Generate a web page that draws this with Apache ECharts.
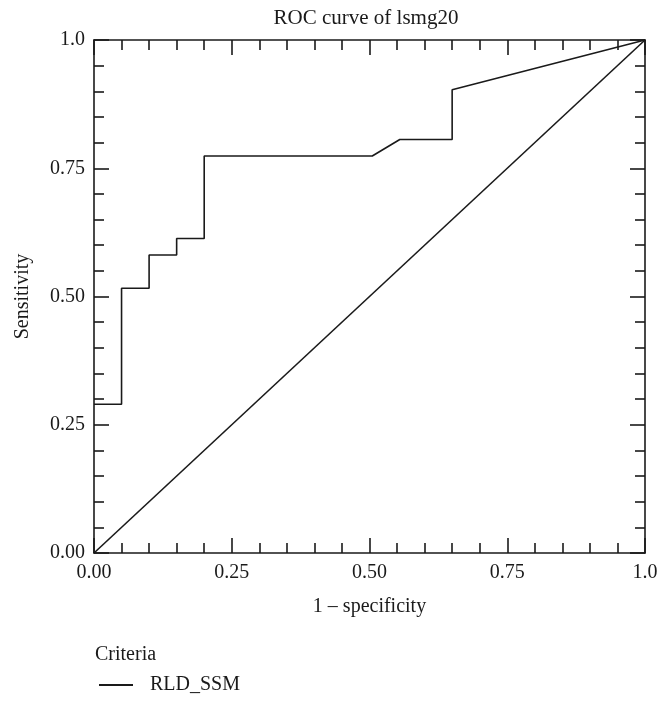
<!DOCTYPE html>
<html>
<head>
<meta charset="utf-8">
<script src="https://cdn.jsdelivr.net/npm/echarts@6/dist/echarts.min.js"></script>
<style>html,body{margin:0;padding:0;background:#fff}#c{width:671px;height:706px}</style>
</head>
<body>
<div id="c"></div>
<script>
// ROC curve points (1 - specificity, sensitivity)
const fpr = [0, 0.05, 0.05, 0.10, 0.10, 0.15, 0.15, 0.20, 0.20, 0.505, 0.555, 0.65, 0.65, 1.0];
const tpr = [0.29, 0.29, 0.516, 0.516, 0.581, 0.581, 0.613, 0.613, 0.774, 0.774, 0.806, 0.806, 0.903, 1.0];
const refX = [0, 1];
const refY = [0, 1];
const xTickLabels = ['0.00', '0.25', '0.50', '0.75', '1.0'];
const yTickLabels = ['0.00', '0.25', '0.50', '0.75', '1.0'];
const seriesName = 'RLD_SSM';
const titleText = 'ROC curve of lsmg20';
const xName = '1 \u2013 specificity';
const yName = 'Sensitivity';
const legendTitle = 'Criteria';

const FONT = '"Liberation Serif", "DejaVu Serif", serif';
const INK = '#1a1a1a';
const chart = echarts.init(document.getElementById('c'), null, {renderer: 'canvas'});

function lbl(list) {
  return function (v) { return list[Math.round(v / 0.25)]; };
}
function axisBase(extra) {
  return Object.assign({
    type: 'value', min: 0, max: 1, interval: 0.25,
    axisLine: {show: true, onZero: false, lineStyle: {color: INK, width: 1.6}},
    axisTick: {show: true, inside: true, length: 15, lineStyle: {color: INK, width: 1.6}},
    minorTick: {show: true, splitNumber: 5, length: 10, lineStyle: {color: INK, width: 1.6}},
    splitLine: {show: false},
    axisLabel: {show: false}
  }, extra);
}

const grid = {left: 94, right: 26, top: 40, bottom: 153};

chart.setOption({
  animation: false,
  backgroundColor: '#fff',
  grid: grid,
  xAxis: [
    axisBase({position: 'bottom',
      axisLabel: {show: true, margin: 10, color: INK, fontFamily: FONT, fontSize: 20, formatter: lbl(xTickLabels)}}),
    axisBase({position: 'top'})
  ],
  yAxis: [
    axisBase({position: 'left',
      axisLabel: {show: true, margin: 9, color: INK, fontFamily: FONT, fontSize: 20, formatter: lbl(yTickLabels)}}),
    axisBase({position: 'right'})
  ],
  legend: {
    data: [seriesName],
    left: 99, top: 675, padding: 0,
    itemWidth: 34, itemHeight: 2, itemGap: 10,
    icon: 'rect',
    textStyle: {fontFamily: FONT, fontSize: 20, color: INK, padding: [0, 0, 0, 12]}
  },
  graphic: [
    {type: 'text', style: {text: titleText, font: '21px ' + FONT, fill: INK, textAlign: 'center', textVerticalAlign: 'middle'}, x: 366, y: 18},
    {type: 'text', style: {text: xName, font: '20px ' + FONT, fill: INK, textAlign: 'center', textVerticalAlign: 'middle'}, x: 369.5, y: 607},
    {type: 'text', style: {text: yName, font: '20px ' + FONT, fill: INK, textAlign: 'center', textVerticalAlign: 'middle'}, x: 23, y: 296.5, rotation: Math.PI / 2},
    {type: 'text', style: {text: legendTitle, font: '20px ' + FONT, fill: INK, textAlign: 'left', textVerticalAlign: 'middle'}, x: 95, y: 655}
  ],
  series: [
    {
      name: seriesName, type: 'line', xAxisIndex: 0, yAxisIndex: 0,
      data: fpr.map((x, i) => [x, tpr[i]]),
      showSymbol: false, symbol: 'none',
      lineStyle: {color: INK, width: 1.6}, itemStyle: {color: INK}
    },
    {
      name: 'reference', type: 'line', xAxisIndex: 0, yAxisIndex: 0,
      data: refX.map((x, i) => [x, refY[i]]),
      showSymbol: false, symbol: 'none',
      lineStyle: {color: INK, width: 1.6}, itemStyle: {color: INK}
    }
  ]
});
</script>
</body>
</html>
